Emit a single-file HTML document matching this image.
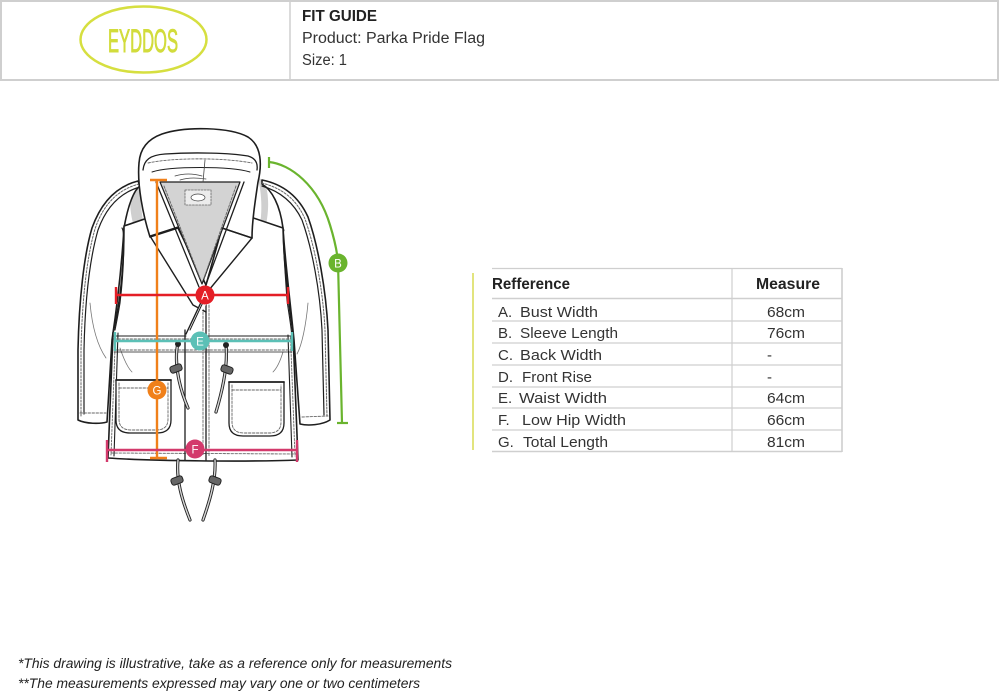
<!DOCTYPE html>
<html><head><meta charset="utf-8"><style>
html,body{margin:0;padding:0;background:#fff;}
svg{display:block;}
</style></head><body>
<svg width="1000" height="693" viewBox="0 0 1000 693" xmlns="http://www.w3.org/2000/svg" font-family="'Liberation Sans', sans-serif">
<!-- header -->
<rect x="1" y="1" width="997" height="79" fill="#fff" stroke="#cfcfcf" stroke-width="2"/>
<line x1="290" y1="1" x2="290" y2="80" stroke="#cfcfcf" stroke-width="1.5"/>
<ellipse cx="143.5" cy="39.5" rx="63" ry="33" fill="none" stroke="#d6df40" stroke-width="2.5"/>
<text x="108" y="52" font-size="32" fill="#d2dc3c" stroke="#d2dc3c" stroke-width="0.9" textLength="70" lengthAdjust="spacingAndGlyphs">EYDDOS</text>
<text x="302" y="21" font-size="15.5" font-weight="bold" fill="#222" textLength="75" lengthAdjust="spacingAndGlyphs">FIT GUIDE</text>
<text x="302" y="43" font-size="15.5" fill="#333" textLength="183" lengthAdjust="spacingAndGlyphs">Product: Parka Pride Flag</text>
<text x="302" y="65" font-size="15.5" fill="#333" textLength="45" lengthAdjust="spacingAndGlyphs">Size: 1</text>

<!-- table -->
<line x1="473" y1="273" x2="473" y2="450" stroke="#e2e47e" stroke-width="2"/>
<g stroke="#cfcfcf" stroke-width="1.2">
<line x1="492" y1="268.5" x2="842" y2="268.5"/>
<line x1="492" y1="298.5" x2="842" y2="298.5" stroke-width="1.6"/>
<line x1="492" y1="321" x2="842" y2="321"/>
<line x1="492" y1="343" x2="842" y2="343"/>
<line x1="492" y1="365" x2="842" y2="365"/>
<line x1="492" y1="387" x2="842" y2="387"/>
<line x1="492" y1="408" x2="842" y2="408"/>
<line x1="492" y1="430" x2="842" y2="430"/>
<line x1="492" y1="451.5" x2="842" y2="451.5" stroke-width="1.6"/>
<line x1="732" y1="268" x2="732" y2="452"/>
<line x1="842" y1="268" x2="842" y2="452" stroke-width="1.6"/>
</g>
<text x="492" y="289" font-size="16" font-weight="bold" fill="#222" textLength="78" lengthAdjust="spacingAndGlyphs">Refference</text>
<text x="756" y="289" font-size="16" font-weight="bold" fill="#222" textLength="64" lengthAdjust="spacingAndGlyphs">Measure</text>
<g font-size="15" fill="#333">
<text x="498" y="317">A.</text><text x="520" y="317" textLength="78" lengthAdjust="spacingAndGlyphs">Bust Width</text><text x="767" y="317" textLength="38" lengthAdjust="spacingAndGlyphs">68cm</text>
<text x="498" y="338">B.</text><text x="520" y="338" textLength="98" lengthAdjust="spacingAndGlyphs">Sleeve Length</text><text x="767" y="338" textLength="38" lengthAdjust="spacingAndGlyphs">76cm</text>
<text x="498" y="360">C.</text><text x="520" y="360" textLength="82" lengthAdjust="spacingAndGlyphs">Back Width</text><text x="767" y="360">-</text>
<text x="498" y="382">D.</text><text x="522" y="382" textLength="70" lengthAdjust="spacingAndGlyphs">Front Rise</text><text x="767" y="382">-</text>
<text x="498" y="403">E.</text><text x="519" y="403" textLength="88" lengthAdjust="spacingAndGlyphs">Waist Width</text><text x="767" y="403" textLength="38" lengthAdjust="spacingAndGlyphs">64cm</text>
<text x="498" y="425">F.</text><text x="522" y="425" textLength="104" lengthAdjust="spacingAndGlyphs">Low Hip Width</text><text x="767" y="425" textLength="38" lengthAdjust="spacingAndGlyphs">66cm</text>
<text x="498" y="447">G.</text><text x="523" y="447" textLength="85" lengthAdjust="spacingAndGlyphs">Total Length</text><text x="767" y="447" textLength="38" lengthAdjust="spacingAndGlyphs">81cm</text>
</g>

<!-- footer -->
<text x="18" y="668" font-size="13.5" font-style="italic" fill="#222" textLength="434" lengthAdjust="spacingAndGlyphs">*This drawing is illustrative, take as a reference only for measurements</text>
<text x="18" y="688" font-size="13.5" font-style="italic" fill="#222" textLength="402" lengthAdjust="spacingAndGlyphs">**The measurements expressed may vary one or two centimeters</text>

<!-- ===== jacket ===== -->
<g stroke-linejoin="round" stroke-linecap="round">
<!-- shoulder shadows -->
<path d="M132,185 C128,200 130,225 142,245 L148,240 C140,215 140,195 142,183 Z" fill="#cfcfcf"/>
<path d="M258,178 C262,195 263,215 258,235 L266,225 C270,205 268,190 264,180 Z" fill="#cfcfcf"/>

<!-- left sleeve -->
<path d="M138,181 C118,186 102,200 92,228 C84,255 79,300 78,350 L78,420 C86,424 100,424 107,422 L112,340 C118,300 122,260 124,228 C128,205 134,190 140,186 Z" fill="#fff" stroke="#1e1e1e" stroke-width="1.6"/>
<path d="M140,187 C122,192 107,205 98,230 C90,258 85,300 84,350 L84,414" fill="none" stroke="#1e1e1e" stroke-width="1.2"/>
<path d="M139,184 C120,189 104,202 95,229 C87,256 82,300 81,350 L81,416" fill="none" stroke="#666" stroke-width="1" stroke-dasharray="2,1.5"/>
<line x1="80" y1="413" x2="106" y2="413" stroke="#666" stroke-width="0.9" stroke-dasharray="2.5,1.5"/>

<!-- right sleeve -->
<path d="M262,180 C282,184 298,195 308,217 C318,245 326,290 328,330 L330,420 C322,425 308,426 300,424 L294,340 C290,300 285,260 283,228 C280,205 272,190 262,184 Z" fill="#fff" stroke="#1e1e1e" stroke-width="1.6"/>
<path d="M262,186 C279,191 293,201 302,220 C312,248 320,290 322,330 L324,415" fill="none" stroke="#1e1e1e" stroke-width="1.2"/>
<path d="M262,183 C281,188 296,198 305,219 C315,247 323,290 325,330 L327,417" fill="none" stroke="#666" stroke-width="1" stroke-dasharray="2,1.5"/>
<line x1="302" y1="417" x2="328" y2="416" stroke="#666" stroke-width="0.9" stroke-dasharray="2.5,1.5"/>

<!-- body -->
<path d="M124,226 C124,265 121,300 113,333 L108,458 C150,461 250,462 298,460 L293,333 C288,300 284,265 283,228 L200,200 Z" fill="#fff" stroke="#1e1e1e" stroke-width="1.6"/>
<!-- side bands -->
<path d="M118,333 L114,456" fill="none" stroke="#1e1e1e" stroke-width="1.1"/>
<path d="M115.5,335 L111,455" fill="none" stroke="#666" stroke-width="0.9" stroke-dasharray="2,1.5"/>
<path d="M288,335 L292,457" fill="none" stroke="#1e1e1e" stroke-width="1.1"/>
<path d="M290.5,337 L295,456" fill="none" stroke="#666" stroke-width="0.9" stroke-dasharray="2,1.5"/>
<!-- front panel seams -->
<path d="M122,228 C125,232 124,270 120,303 C118,315 116,325 115,330" fill="none" stroke="#1e1e1e" stroke-width="1.1"/>
<path d="M284,230 C282,232 285,270 287,300 C289,315 291,325 292,337" fill="none" stroke="#1e1e1e" stroke-width="1.1"/>
<!-- creases -->
<path d="M90,303 C92,325 97,345 106,358" fill="none" stroke="#777" stroke-width="0.8"/>
<path d="M308,303 C306,325 302,345 297,354" fill="none" stroke="#777" stroke-width="0.8"/>
<path d="M120,348 C124,360 128,368 132,372" fill="none" stroke="#777" stroke-width="0.8"/>
<path d="M283,352 C280,362 277,368 273,372" fill="none" stroke="#777" stroke-width="0.8"/>

<!-- waistband -->
<line x1="114" y1="336" x2="186" y2="336" stroke="#1e1e1e" stroke-width="1"/>
<line x1="207" y1="336" x2="292" y2="336" stroke="#1e1e1e" stroke-width="1"/>
<line x1="114" y1="339" x2="292" y2="339" stroke="#666" stroke-width="0.9" stroke-dasharray="2.5,1.5"/>
<line x1="114" y1="350" x2="292" y2="350" stroke="#666" stroke-width="0.9" stroke-dasharray="2.5,1.5"/>
<line x1="114" y1="352" x2="292" y2="352" stroke="#1e1e1e" stroke-width="0.8"/>

<!-- hem -->
<line x1="111" y1="453" x2="296" y2="454" stroke="#666" stroke-width="0.9" stroke-dasharray="2.5,1.5"/>

<!-- placket -->
<line x1="185" y1="330" x2="185" y2="460" stroke="#1e1e1e" stroke-width="1.3"/>
<line x1="206" y1="290" x2="206" y2="460" stroke="#1e1e1e" stroke-width="1.3"/>
<line x1="209" y1="305" x2="209" y2="456" stroke="#666" stroke-width="0.9" stroke-dasharray="2.5,1.5"/>
<line x1="203" y1="300" x2="203" y2="456" stroke="#666" stroke-width="0.9" stroke-dasharray="2.5,1.5"/>

<!-- pockets -->
<path d="M116,380 L116,420 Q116,433 130,433 L157,433 Q171,433 171,420 L171,380" fill="#fff" stroke="#1e1e1e" stroke-width="1.3"/>
<line x1="116" y1="380" x2="171" y2="380" stroke="#1e1e1e" stroke-width="1.8"/>
<line x1="119" y1="388" x2="168" y2="388" stroke="#666" stroke-width="0.9" stroke-dasharray="2.5,1.5"/>
<path d="M119,383 L119,419 Q119,430 131,430 L156,430 Q168,430 168,419 L168,383" fill="none" stroke="#666" stroke-width="0.9" stroke-dasharray="2.5,1.5"/>
<path d="M229,382 L229,423 Q229,436 243,436 L270,436 Q284,436 284,423 L284,382" fill="#fff" stroke="#1e1e1e" stroke-width="1.3"/>
<line x1="229" y1="382" x2="284" y2="382" stroke="#1e1e1e" stroke-width="1.8"/>
<line x1="232" y1="390" x2="281" y2="390" stroke="#666" stroke-width="0.9" stroke-dasharray="2.5,1.5"/>
<path d="M232,385 L232,422 Q232,433 244,433 L269,433 Q281,433 281,422 L281,385" fill="none" stroke="#666" stroke-width="0.9" stroke-dasharray="2.5,1.5"/>

<!-- hood / collar -->
<path d="M150,237 C143,215 137,185 139,163 C140,148 148,139 162,134 C185,126 230,127 248,137 C262,146 262,165 258,182 C255,202 252,222 252,238 L222,228 L206,285 L178,228 Z" fill="#fff" stroke="#1e1e1e" stroke-width="1.6"/>
<path d="M160,182 L240,182 L202,284 Z" fill="#d3d3d3" stroke="#1e1e1e" stroke-width="1.2"/>
<path d="M164,186 L200,278" fill="none" stroke="#666" stroke-width="0.9" stroke-dasharray="2.5,1.5"/>
<path d="M236,186 L204,278" fill="none" stroke="#666" stroke-width="0.9" stroke-dasharray="2.5,1.5"/>
<path d="M156,182 L199,287" fill="none" stroke="#1e1e1e" stroke-width="1.3"/>
<path d="M244,182 L205,287" fill="none" stroke="#1e1e1e" stroke-width="1.3"/>
<!-- hood inner rim -->
<path d="M143,170 C144,160 150,155 165,154 C195,152 230,153 248,156 C255,158 258,163 257,170" fill="none" stroke="#1e1e1e" stroke-width="1.3"/>
<path d="M148,163 C170,158 220,157 252,163" fill="none" stroke="#666" stroke-width="0.9" stroke-dasharray="2.5,1.5"/>
<path d="M152,172 C170,166 230,166 250,172" fill="none" stroke="#1e1e1e" stroke-width="1"/>
<path d="M175,176 C185,173 195,174 202,176 M180,180 C190,177 198,178 206,179 M205,160 L203,182" fill="none" stroke="#444" stroke-width="0.8"/>
<!-- label -->
<rect x="185" y="190" width="26" height="15" fill="#ececec" stroke="#666" stroke-width="0.8" stroke-dasharray="2,1.2"/>
<ellipse cx="198" cy="197.5" rx="7" ry="3.5" fill="#fff" stroke="#444" stroke-width="0.7"/>
<!-- notches & lapels -->
<path d="M150,236 L178,227" fill="none" stroke="#1e1e1e" stroke-width="1.3"/>
<path d="M222,228 L252,238" fill="none" stroke="#1e1e1e" stroke-width="1.3"/>
<path d="M150,236 L193,305 L206,312" fill="none" stroke="#1e1e1e" stroke-width="1.4"/>
<path d="M252,238 L204,296 L186,334" fill="#fff" stroke="#1e1e1e" stroke-width="1.4"/>
<path d="M205,298 L190,330" fill="none" stroke="#1e1e1e" stroke-width="1"/>

<!-- drawstrings -->
<g fill="none">
<path d="M178,343 C174,360 178,385 188,408" stroke="#222" stroke-width="3.2"/>
<path d="M178,343 C174,360 178,385 188,408" stroke="#d8d8d8" stroke-width="1.4"/>
<path d="M226,345 C228,365 222,392 216,412" stroke="#222" stroke-width="3.2"/>
<path d="M226,345 C228,365 222,392 216,412" stroke="#d8d8d8" stroke-width="1.4"/>
<path d="M178,460 C176,480 182,500 190,520" stroke="#222" stroke-width="3.2"/>
<path d="M178,460 C176,480 182,500 190,520" stroke="#d8d8d8" stroke-width="1.4"/>
<path d="M215,460 C216,480 210,500 203,520" stroke="#222" stroke-width="3.2"/>
<path d="M215,460 C216,480 210,500 203,520" stroke="#d8d8d8" stroke-width="1.4"/>
</g>
<circle cx="178" cy="344" r="3" fill="#222"/>
<circle cx="226" cy="345" r="3" fill="#222"/>
<rect x="170" y="365" width="12" height="7" rx="2.5" transform="rotate(-20 176 368.5)" fill="#666" stroke="#222" stroke-width="1"/>
<rect x="221" y="366" width="12" height="7" rx="2.5" transform="rotate(20 227 369.5)" fill="#666" stroke="#222" stroke-width="1"/>
<rect x="171" y="477" width="12" height="7" rx="2.5" transform="rotate(-20 177 480.5)" fill="#666" stroke="#222" stroke-width="1"/>
<rect x="209" y="477" width="12" height="7" rx="2.5" transform="rotate(20 215 480.5)" fill="#666" stroke="#222" stroke-width="1"/>
</g>

<!-- ===== measurement lines ===== -->
<g stroke="#f0801a" stroke-width="2.4" fill="none">
<line x1="157" y1="180" x2="157" y2="458"/>
<line x1="150" y1="180" x2="167" y2="180"/>
<line x1="150" y1="458" x2="167" y2="458"/>
</g>
<g stroke="#e41e26" stroke-width="2.4">
<line x1="116" y1="295" x2="288" y2="295"/>
<line x1="116" y1="287" x2="116" y2="304"/>
<line x1="288" y1="287" x2="288" y2="304"/>
</g>
<g stroke="#5cc0b6" stroke-width="2.4">
<line x1="115" y1="341" x2="292" y2="341"/>
<line x1="115" y1="332" x2="115" y2="351"/>
<line x1="292" y1="332" x2="292" y2="351"/>
</g>
<g stroke="#d33a6c" stroke-width="2.4">
<line x1="107" y1="450" x2="297" y2="450"/>
<line x1="107" y1="440" x2="107" y2="462"/>
<line x1="297" y1="440" x2="297" y2="462"/>
</g>
<g stroke="#6ab42e" stroke-width="2.2" fill="none">
<line x1="269" y1="157" x2="269" y2="168"/>
<path d="M269,162 C290,164 318,185 330,225 C334,238 337,250 338,262 L342,423"/>
<line x1="337" y1="423" x2="348" y2="423"/>
</g>

<g font-size="11.5" fill="#fff" text-anchor="middle">
<circle cx="205" cy="295" r="9.5" fill="#e41e26"/><text x="205" y="299.5">A</text>
<circle cx="200" cy="341" r="9.5" fill="#5cc0b6"/><text x="200" y="345.5">E</text>
<circle cx="195" cy="449" r="9.5" fill="#d33a6c"/><text x="195" y="453.5">F</text>
<circle cx="157" cy="390" r="9.5" fill="#f0801a"/><text x="157" y="394.5">G</text>
<circle cx="338" cy="263" r="9.5" fill="#6ab42e"/><text x="338" y="267.5">B</text>
</g>
</svg>
</body></html>
